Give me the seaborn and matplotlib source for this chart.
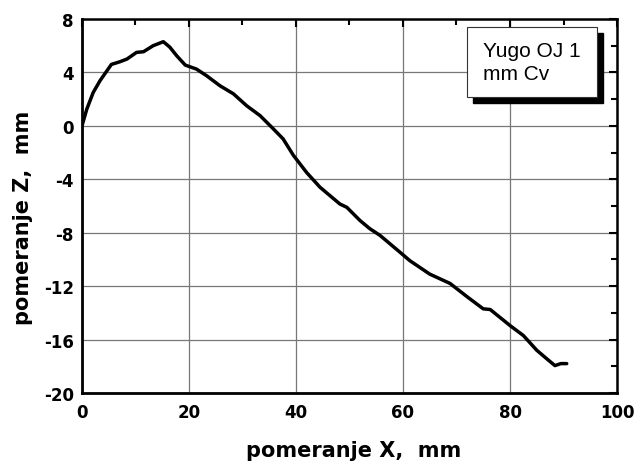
import numpy as np
import pandas as pd
import seaborn as sns
import matplotlib.pyplot as plt
from matplotlib.patches import Rectangle
from matplotlib.ticker import MultipleLocator

# Podaci ocitani sa slike
pomeranje_x = [0.0, 0.9, 2.1, 3.4, 5.5, 7.1, 8.4, 10.2, 11.5, 13.3, 15.2,
               16.4, 17.7, 19.3, 21.4, 23.3, 25.8, 28.3, 30.8, 33.3, 35.8,
               37.6, 39.5, 42.0, 44.5, 48.2, 49.5, 52.0, 53.8, 55.7, 59.4,
               61.3, 65.0, 68.8, 72.0, 75.0, 76.3, 80.0, 82.5, 85.0, 86.9,
               88.4, 89.5, 90.6]
pomeranje_z = [0.0, 1.25, 2.5, 3.4, 4.6, 4.8, 5.0, 5.5, 5.55, 6.0, 6.3,
               5.9, 5.25, 4.55, 4.25, 3.75, 3.0, 2.4, 1.5, 0.76, -0.24,
               -0.98, -2.2, -3.5, -4.6, -5.85, -6.1, -7.1, -7.7, -8.2, -9.45,
               -10.1, -11.1, -11.8, -12.8, -13.7, -13.75, -14.95, -15.7, -16.8, -17.45,
               -17.95, -17.8, -17.8]
legenda = "Yugo OJ 1\nmm Cv"

df = pd.DataFrame({'x': pomeranje_x, 'z': pomeranje_z})

sns.set_style("white")
plt.rcParams['font.family'] = ['DejaVu Sans']
plt.rcParams['axes.unicode_minus'] = False
plt.rcParams['text.color'] = 'black'
plt.rcParams['axes.labelcolor'] = 'black'
plt.rcParams['xtick.color'] = 'black'
plt.rcParams['ytick.color'] = 'black'

fig = plt.figure(figsize=(6.34, 4.64), dpi=100)
ax = fig.add_axes([0.1293, 0.1509, 0.8439, 0.806])

sns.lineplot(data=df, x='x', y='z', sort=False, color='black', linewidth=2.5, ax=ax)

ax.set_xlim(0, 100)
ax.set_ylim(-20, 8)
ax.xaxis.set_major_locator(MultipleLocator(20))
ax.xaxis.set_minor_locator(MultipleLocator(10))
ax.yaxis.set_major_locator(MultipleLocator(4))
ax.yaxis.set_minor_locator(MultipleLocator(2))

ax.grid(True, which='major', color='#777777', linewidth=0.9)
ax.tick_params(which='both', direction='in', top=True, right=True, color='black')
ax.tick_params(which='major', length=6, width=1.5)
ax.tick_params(which='minor', length=4, width=1.5)
ax.tick_params(axis='x', pad=7)
ax.tick_params(axis='y', pad=6)
for lab in ax.get_xticklabels() + ax.get_yticklabels():
    lab.set_fontweight('bold')
    lab.set_fontsize(12)

for s in ax.spines.values():
    s.set_visible(True)
    s.set_color('black')
    s.set_linewidth(1.8)
ax.spines['left'].set_linewidth(2)
ax.spines['bottom'].set_linewidth(2)

ax.set_xlabel('pomeranje X,  mm', fontsize=15, fontweight='bold')
ax.set_ylabel('pomeranje Z,  mm', fontsize=15, fontweight='bold')
ax.xaxis.set_label_coords(0.507, -0.125)
ax.yaxis.set_label_coords(-0.092, 0.47)

# okvir sa natpisom i senkom
ax.add_patch(Rectangle((0.731, 0.775), 0.243, 0.188, transform=ax.transAxes,
                       facecolor='black', edgecolor='black', zorder=5, clip_on=False))
ax.add_patch(Rectangle((0.72, 0.791), 0.243, 0.188, transform=ax.transAxes,
                       facecolor='white', edgecolor='#333333', linewidth=0.8, zorder=6))
ax.text(0.75, 0.885, legenda, transform=ax.transAxes, fontsize=15,
        family=['Liberation Sans', 'DejaVu Sans'], va='center', ha='left',
        linespacing=1.25, zorder=7)

plt.savefig('out.png', dpi=100)
